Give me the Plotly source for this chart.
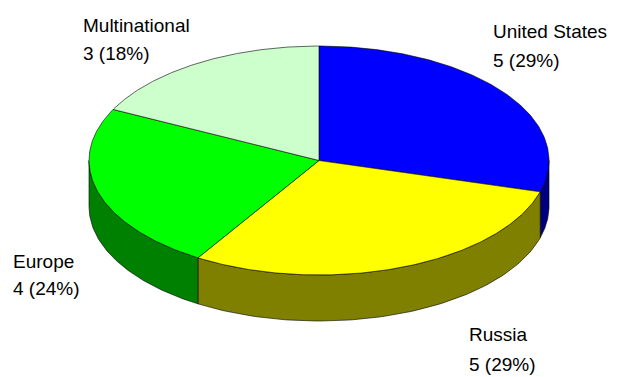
import numpy as np
import plotly.graph_objects as go

# ---- data ----
categories = ["United States", "Russia", "Europe", "Multinational"]
values = [5, 5, 4, 3]
top_colors = ["#0000FF", "#FFFF00", "#00FF00", "#CCFFCC"]
side_colors = ["#000080", "#808000", "#008000", "#66CC66"]

# ---- geometry (layout parameters in pixel space) ----
W, H = 627, 377
CX, CY = 319.0, 160.5
RX, RY = 230.0, 114.5
DEPTH = 46.0

label_pos = {  # left x, line-1 cap-center y, line-2 cap-center y
    "United States": (491, 31.5, 60),
    "Russia": (467, 334.5, 364),
    "Europe": (11, 261, 288.5),
    "Multinational": (81, 25.5, 53.5),
}


def pt(phi_deg, dy=0.0):
    p = np.radians(phi_deg)
    return CX + RX * np.sin(p), CY - RY * np.cos(p) + dy


total = sum(values)
fracs = [v / total for v in values]
starts = np.cumsum([0] + fracs[:-1]) * 360
ends = np.cumsum(fracs) * 360

fig = go.Figure()

# sides (front half only: phi in [90, 270])
for i, (a0, a1) in enumerate(zip(starts, ends)):
    lo, hi = max(a0, 90.0), min(a1, 270.0)
    if hi <= lo:
        continue
    ph = np.linspace(lo, hi, 80)
    xt, yt = pt(ph)
    xb, yb = pt(ph[::-1], DEPTH)
    xs = np.concatenate([xt, xb, xt[:1]])
    ys = np.concatenate([yt, yb, yt[:1]])
    fig.add_trace(go.Scatter(x=xs, y=ys, mode="lines", fill="toself",
                             fillcolor=side_colors[i],
                             line=dict(color="#000000", width=0.6),
                             hoverinfo="skip", showlegend=False))

# tops
for i, (a0, a1) in enumerate(zip(starts, ends)):
    ph = np.linspace(a0, a1, 200)
    xa, ya = pt(ph)
    xs = np.concatenate([[CX], xa, [CX]])
    ys = np.concatenate([[CY], ya, [CY]])
    fig.add_trace(go.Scatter(x=xs, y=ys, mode="lines", fill="toself",
                             fillcolor=top_colors[i],
                             line=dict(color="#000000", width=0.6),
                             hoverinfo="skip", showlegend=False))

# labels
for cat, v, f in zip(categories, values, fracs):
    lx, y1, y2 = label_pos[cat]
    for txt, yy in ((cat, y1), (f"{v} ({round(f * 100):.0f}%)", y2)):
        fig.add_annotation(x=lx, y=yy, text=txt, showarrow=False,
                           xanchor="left", yanchor="middle",
                           font=dict(family="Liberation Sans, Arial", size=19, color="#000000"))

fig.update_layout(
    width=W, height=H,
    margin=dict(l=0, r=0, t=0, b=0),
    paper_bgcolor="white", plot_bgcolor="white",
    xaxis=dict(range=[0, W], visible=False, fixedrange=True),
    yaxis=dict(range=[H, 0], visible=False, fixedrange=True),
)

fig.write_html("out.html", config={"displayModeBar": False})
